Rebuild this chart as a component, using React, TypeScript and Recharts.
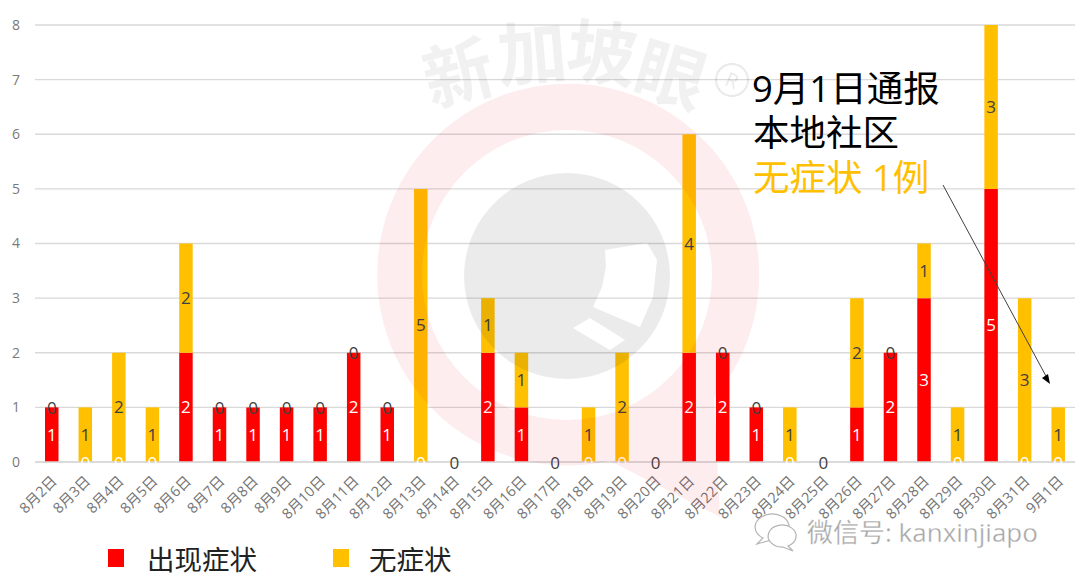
import React from "react";
import { ComposedChart, Bar, Line, XAxis, YAxis, CartesianGrid, LabelList, Legend } from "recharts";

const dates = [
    "8月2日", "8月3日", "8月4日", "8月5日", "8月6日", "8月7日", "8月8日", "8月9日",
    "8月10日", "8月11日", "8月12日", "8月13日", "8月14日", "8月15日", "8月16日", "8月17日",
    "8月18日", "8月19日", "8月20日", "8月21日", "8月22日", "8月23日", "8月24日", "8月25日",
    "8月26日", "8月27日", "8月28日", "8月29日", "8月30日", "8月31日", "9月1日",
];
const symptomatic = [1, 0, 0, 0, 2, 1, 1, 1, 1, 2, 1, 0, 0, 2, 1, 0, 0, 0, 0, 2, 2, 1, 0, 0, 1, 2, 3, 0, 5, 0, 0];
const asymptomatic = [0, 1, 2, 1, 2, 0, 0, 0, 0, 0, 0, 5, 0, 1, 1, 0, 1, 2, 0, 4, 0, 0, 1, 0, 2, 0, 1, 1, 3, 3, 1];
const yTicks = [0, 1, 2, 3, 4, 5, 6, 7, 8];
const seriesNames = ["出现症状", "无症状"];

// zero-height bars get no label from recharts, so the zeros ride on two invisible lines
const chartData = dates.map((date, i) => ({
    date,
    symptomatic: symptomatic[i],
    asymptomatic: asymptomatic[i],
    symptomaticZero: symptomatic[i] === 0 ? 0 : null,
    asymptomaticZero: asymptomatic[i] === 0 ? symptomatic[i] : null,
}));

const FONT = '"Open Sans", "Noto Sans CJK SC", sans-serif';
const RED = "#ff0000";
const AMBER = "#ffc000";
const LABEL_SIZE = 17;

// rotated date labels, right end sits under the bar
function DateTick({ x, y, payload }: any) {
    return (
        <text
            x={0}
            y={0}
            transform={`translate(${x + 6},${y + 12}) rotate(-45)`}
            textAnchor="end"
            fontSize={14.5}
            fill="#757575"
            fontFamily={FONT}
        >
            {payload.value}
        </text>
    );
}

const zeroDot = (color: string) => (props: any) => {
    const { cx, cy, index } = props;
    if (cx == null || cy == null) return <g key={index} />;
    return (
        <text
            key={index}
            x={cx}
            y={cy}
            textAnchor="middle"
            dominantBaseline="central"
            fontSize={LABEL_SIZE}
            fill={color}
            fontFamily={FONT}
        >
            0
        </text>
    );
};

function LegendRow({ payload }: any) {
    const items = (payload || []).filter((item: any) => seriesNames.includes(item.value));
    return (
        <div style={{ position: "relative", height: 40, fontFamily: FONT }}>
            {items.map((item: any, i: number) => (
                <div key={item.value} style={{ position: "absolute", left: i === 0 ? 108 : 333, top: 0, display: "flex", alignItems: "center", height: 40 }}>
                    <span style={{ display: "block", width: 16, height: 18, background: item.color, marginRight: i === 0 ? 23 : 20 }} />
                    <span style={{ fontSize: 27.5, color: "#222" }}>{item.value}</span>
                </div>
            ))}
        </div>
    );
}

// brand watermark, sits over the bars with low alpha
function Watermark() {
    const chars = [
        { c: "新", x: 458, y: 72, r: -15 },
        { c: "加", x: 532, y: 52, r: -5 },
        { c: "坡", x: 602, y: 52, r: 7 },
        { c: "眼", x: 671, y: 74, r: 17 },
    ];
    return (
        <svg width={1080} height={583} style={{ position: "absolute", left: 0, top: 0, pointerEvents: "none" }}>
            <path
                fillRule="evenodd"
                fill="#e60012"
                fillOpacity={0.07}
                d="M610 461 L720 517 L714 398 A191 191 0 1 0 610 461 Z M712 275 A145 145 0 1 0 422 275 A145 145 0 1 0 712 275 Z"
            />
            <path
                fillRule="evenodd"
                fill="#000"
                fillOpacity={0.08}
                d="M670 276 A103 103 0 1 0 464 276 A103 103 0 1 0 670 276 Z M605 250 L647 243 L657 260 L653 297 L640 327 L593 307 L602 287 L606 267 Z M573 328 L590 318 L625 340 L610 350 Z"
            />
            {chars.map((d) => (
                <text
                    key={d.c}
                    x={d.x}
                    y={d.y}
                    transform={`rotate(${d.r} ${d.x} ${d.y})`}
                    textAnchor="middle"
                    dominantBaseline="central"
                    fontSize={70}
                    fontWeight={700}
                    fontFamily={FONT}
                    fill="#000"
                    fillOpacity={0.055}
                >
                    {d.c}
                </text>
            ))}
            <g transform="rotate(22 732 80)" opacity={0.08}>
                <circle cx={732} cy={80} r={16} fill="none" stroke="#000" strokeWidth={2} />
                <text x={732} y={80} textAnchor="middle" dominantBaseline="central" fontSize={20} fontFamily={FONT}>R</text>
            </g>
        </svg>
    );
}

function Annotation() {
    return (
        <svg width={1080} height={583} style={{ position: "absolute", left: 0, top: 0, pointerEvents: "none" }}>
            <g fontFamily={FONT} fontSize={36.5}>
                <text x={752} y={102} fill="#000">9月1日通报</text>
                <text x={753} y={146} fill="#000">本地社区</text>
                <text x={753} y={191} fill={AMBER}>无症状 1例</text>
            </g>
            <line x1={943} y1={185} x2={1047} y2={378} stroke="#404040" strokeWidth={1} />
            <polygon points="1050,384 1042,378 1048,374" fill="#000" />

            {/* wechat mark, bottom right */}
            <g fill="#fff" stroke="#b4b4b4" strokeWidth={1.2}>
                <path d="M757 544 L763 538 A17 13 0 1 1 771 540 Z" />
                <path d="M793 551 L788 546 A14 11 0 1 0 783 547 Z" />
            </g>
            <text x={807} y={542} fontSize={26} fontFamily={FONT} fill="#a6a6a6" stroke="#fff" strokeWidth={0.3}>微信号: kanxinjiapo</text>
        </svg>
    );
}

export default function App() {
    return (
        <div style={{ position: "absolute", left: 0, top: 0, width: 1080, height: 583, background: "#fff", overflow: "hidden" }}>
            <ComposedChart
                width={1080}
                height={583}
                data={chartData}
                margin={{ top: 25, right: 5, bottom: 31, left: 0 }}
                barCategoryGap={0}
            >
                <CartesianGrid vertical={false} stroke="#d9d9d9" strokeWidth={1.3} />
                <XAxis
                    dataKey="date"
                    interval={0}
                    tick={<DateTick />}
                    tickLine={false}
                    axisLine={{ stroke: "#d9d9d9", strokeWidth: 1.3 }}
                    height={50}
                />
                <YAxis
                    width={35}
                    domain={[0, 8]}
                    ticks={yTicks}
                    tickLine={false}
                    axisLine={false}
                    tickMargin={9}
                    tick={{ fontSize: 14, fill: "#7a7a7a", fontFamily: FONT }}
                />
                <Legend
                    content={<LegendRow />}
                    verticalAlign="bottom"
                    wrapperStyle={{ left: 0, top: 538, width: 1080, height: 40 }}
                />
                <Bar dataKey="symptomatic" name="出现症状" stackId="a" fill={RED} barSize={13.5} isAnimationActive={false}>
                    <LabelList dataKey="symptomatic" position="center" fill="#fff" fontSize={LABEL_SIZE} fontFamily={FONT} />
                </Bar>
                <Bar dataKey="asymptomatic" name="无症状" stackId="a" fill={AMBER} barSize={13.5} isAnimationActive={false}>
                    <LabelList dataKey="asymptomatic" position="center" fill="#404040" fontSize={LABEL_SIZE} fontFamily={FONT} />
                </Bar>
                <Line dataKey="symptomaticZero" stroke="none" legendType="none" connectNulls={false} dot={zeroDot("#fff")} activeDot={false} isAnimationActive={false} />
                <Line dataKey="asymptomaticZero" stroke="none" legendType="none" connectNulls={false} dot={zeroDot("#404040")} activeDot={false} isAnimationActive={false} />
            </ComposedChart>
            <Watermark />
            <Annotation />
        </div>
    );
}
